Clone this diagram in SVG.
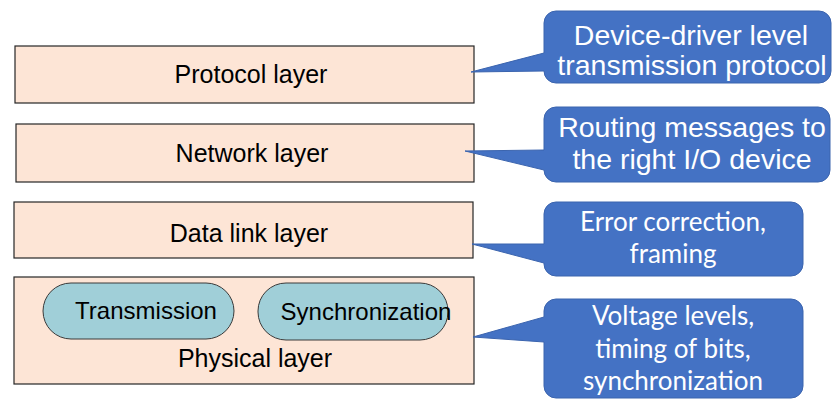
<svg xmlns="http://www.w3.org/2000/svg" width="832" height="401" viewBox="0 0 832 401">
<style>
.layer{fill:#FDE5D6;stroke:#262626;stroke-width:1.2}
.oval{fill:#A0CFD8;stroke:#3A3A3A;stroke-width:1}
.call{fill:#4472C4;stroke:#3B64AE;stroke-width:1}
.lt{font-family:"Liberation Sans",Arial,sans-serif;font-size:25px;fill:#000;text-anchor:middle}
.ot{font-family:"Liberation Sans",Arial,sans-serif;font-size:24px;fill:#000;text-anchor:middle}
.ca{font-family:"Liberation Sans",Arial,sans-serif;font-size:28.5px;fill:#fff;text-anchor:middle}
.cc{font-family:Lato,"Open Sans",sans-serif;font-size:26px;fill:#fff;text-anchor:middle}
</style>
<rect width="832" height="401" fill="#fff"/>
<g id="protocol-layer">
<rect class="layer" x="15" y="46" width="459" height="57"/>
<text class="lt" x="251" y="83">Protocol layer</text>
</g>
<g id="network-layer">
<rect class="layer" x="16" y="124" width="458" height="58"/>
<text class="lt" x="252" y="162">Network layer</text>
</g>
<g id="data-link-layer">
<rect class="layer" x="14" y="202" width="459" height="56"/>
<text class="lt" x="249" y="242">Data link layer</text>
</g>
<g id="physical-layer">
<rect class="layer" x="14" y="277" width="460" height="107"/>
<text class="lt" x="255" y="367">Physical layer</text>
</g>
<g id="transmission">
<rect class="oval" x="43" y="283" width="191" height="56" rx="28" ry="28"/>
<text class="ot" x="146" y="319">Transmission</text>
</g>
<g id="synchronization">
<rect class="oval" x="258" y="283" width="190" height="57" rx="28" ry="28"/>
<text class="ot" x="366" y="320">Synchronization</text>
</g>
<g id="connectors"></g>
<g id="callout-protocol">
<path class="call" d="M556,11 H819 A12,12 0 0 1 831,23 V71 A12,12 0 0 1 819,83 H556 A12,12 0 0 1 544,71 L471,72 L544,53 V23 A12,12 0 0 1 556,11 Z"/>
<text class="ca" x="691" y="45">Device-driver level</text>
<text class="ca" x="692" y="75">transmission protocol</text>
</g>
<g id="callout-network">
<path class="call" d="M556,107 H818 A12,12 0 0 1 830,119 V170 A12,12 0 0 1 818,182 H556 A12,12 0 0 1 544,170 L465,151 L544,150 V119 A12,12 0 0 1 556,107 Z"/>
<text class="ca" x="692" y="137">Routing messages to</text>
<text class="ca" x="692" y="169">the right I/O device</text>
</g>
<g id="callout-datalink">
<path class="call" d="M556,202 H791 A12,12 0 0 1 803,214 V264 A12,12 0 0 1 791,276 H556 A12,12 0 0 1 544,264 V263 L472,244 L544,244 V214 A12,12 0 0 1 556,202 Z"/>
<text class="cc" x="673" y="231">Error correction,</text>
<text class="cc" x="673" y="263">framing</text>
</g>
<g id="callout-physical">
<path class="call" d="M556,299 H791 A12,12 0 0 1 803,311 V386 A12,12 0 0 1 791,398 H556 A12,12 0 0 1 544,386 V342 L473,337 L544,317 V311 A12,12 0 0 1 556,299 Z"/>
<text class="cc" x="673" y="325">Voltage levels,</text>
<text class="cc" x="673" y="358">timing of bits,</text>
<text class="cc" x="673" y="390">synchronization</text>
</g>
</svg>
